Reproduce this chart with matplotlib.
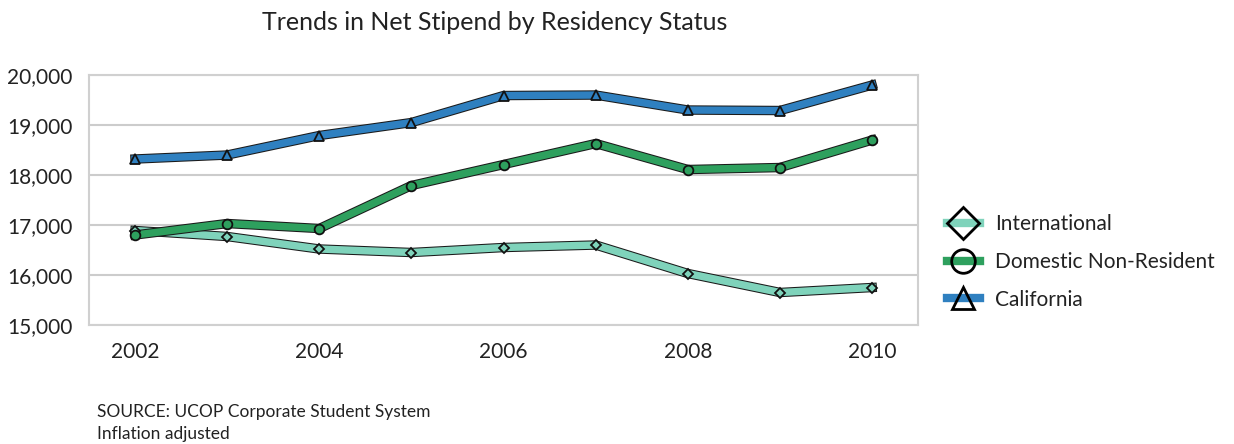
import matplotlib.pyplot as plt
import matplotlib.patheffects as pe
from matplotlib.lines import Line2D
from matplotlib.ticker import FuncFormatter

plt.rcParams['font.family'] = ['Lato', 'DejaVu Sans']

years = [2002, 2003, 2004, 2005, 2006, 2007, 2008, 2009, 2010]
international = [16890, 16770, 16520, 16450, 16550, 16600, 16030, 15650, 15750]
domestic = [16800, 17030, 16930, 17790, 18210, 18630, 18110, 18150, 18700]
california = [18320, 18400, 18790, 19050, 19590, 19600, 19300, 19290, 19800]

labels = ['International', 'Domestic Non-Resident', 'California']
colors = ['#7fd3bb', '#2ea05e', '#2f80c0']
markers = ['D', 'o', '^']
msizes = [5.5, 7, 6.5]
series = [international, domestic, california]

fig = plt.figure(figsize=(12.34, 4.44), dpi=100)
ax = fig.add_axes([0.0721, 0.268, 0.672, 0.563])

# thick coloured band with a thin dark outline
outline = [pe.Stroke(linewidth=6.8, foreground='#1a1a1a'), pe.Normal()]
for vals, c, m, ms in zip(series, colors, markers, msizes):
    ax.plot(years, vals, color=c, lw=5.3, solid_joinstyle='miter',
            path_effects=outline, zorder=2)
    ax.plot(years, vals, ls='none', marker=m, ms=ms, mfc=c,
            mec='#111111', mew=1.3, zorder=3)

ax.set_xlim(2001.5, 2010.5)
ax.set_ylim(15000, 20000)
ax.set_xticks([2002, 2004, 2006, 2008, 2010])
ax.set_yticks(range(15000, 20001, 1000))
ax.yaxis.set_major_formatter(FuncFormatter(lambda v, p: f'{int(v):,}'))
ax.tick_params(length=0, labelsize=15, colors='#222222')
ax.tick_params(axis='x', pad=12)
ax.tick_params(axis='y', pad=12)
ax.grid(axis='y', color='#cccccc', lw=1.5)
ax.set_axisbelow(True)
for s in ax.spines.values():
    s.set_color('#d0d0d0')
    s.set_linewidth(1.5)

fig.text(0.401, 0.95, 'Trends in Net Stipend by Residency Status',
         ha='center', va='center', fontsize=18, color='#222222')

handles = []
for lab, c, m, ms in zip(labels, colors, markers, [16, 17, 16]):
    handles.append(Line2D([0], [0], color=c, lw=6, marker=m, ms=ms,
                          mfc='none', mec='black', mew=2, label=lab))
fig.legend(handles=handles, loc='center left', bbox_to_anchor=(0.752, 0.41),
           frameon=False, fontsize=15, handlelength=1.6, labelspacing=0.85,
           handletextpad=0.7, labelcolor='#222222')

fig.text(0.079, 0.072, 'SOURCE: UCOP Corporate Student System', fontsize=12.5,
         va='center', color='#222222')
fig.text(0.079, 0.022, 'Inflation adjusted', fontsize=12.5, va='center',
         color='#222222')

fig.savefig('out.png', dpi=100)
